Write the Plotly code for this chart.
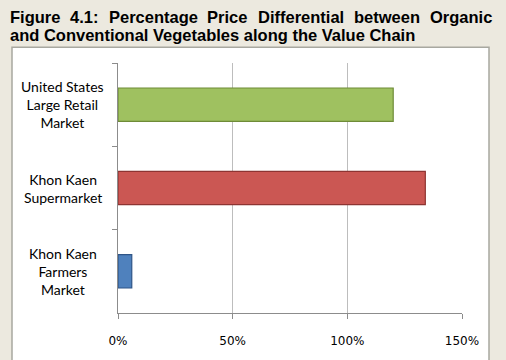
import plotly.graph_objects as go

# ---- data ----
categories = [
    "United States<br>Large Retail<br>Market",
    "Khon Kaen<br>Supermarket",
    "Khon Kaen<br>Farmers<br>Market",
]
values = [120, 134, 6]
bar_colors = ["#9FC160", "#CB5753", "#4F81BD"]
bar_edges = ["#6E8B37", "#8E3432", "#2F5587"]
x_ticks = [0, 50, 100, 150]
x_tick_labels = ["0%", "50%", "100%", "150%"]
title_line1_words = ["Figure", "4.1:", "Percentage", "Price", "Differential", "between", "Organic"]
title_line2 = "and Conventional Vegetables along the Value Chain"

# ---- layout geometry (pixels) ----
W, H = 506, 360
L, R, T, B = 118, 44, 63, 44
PW, PH = W - L - R, H - T - B
TITLE_SIZE = 16.5

def px(xp):
    return (xp - L) / PW

def py(yp):
    return (H - B - yp) / PH

# Arial/Liberation Sans Bold advance widths (per 1000 em) for justification
ADV = {"F": 611, "i": 278, "g": 611, "u": 611, "r": 389, "e": 556, "4": 556,
       ".": 278, "1": 556, ":": 333, "P": 667, "c": 556, "n": 611, "t": 333,
       "a": 556, "D": 722, "f": 333, "l": 278, "b": 611, "w": 778, "O": 778}

def word_width(w):
    return sum(ADV.get(ch, 556) for ch in w) * TITLE_SIZE / 1000.0

# justify line 1 between x=8 and x=490
left_edge, right_edge = 8, 490
widths = [word_width(w) for w in title_line1_words]
gap = (right_edge - left_edge - sum(widths)) / (len(widths) - 1)
word_x = []
cur = left_edge
for wd in widths:
    word_x.append(cur)
    cur += wd + gap

fig = go.Figure()
fig.add_trace(go.Bar(
    y=categories, x=values, orientation="h",
    marker=dict(color=bar_colors, line=dict(color=bar_edges, width=1.2)),
    width=0.4, hoverinfo="skip",
))

shapes = [
    dict(type="rect", xref="paper", yref="paper", layer="below",
         x0=px(12), x1=px(489), y0=py(47), y1=py(380),
         fillcolor="white", line=dict(color="#A8A8A0", width=1.5)),
]

title_font = dict(family="Liberation Sans, Arial", size=TITLE_SIZE, color="black")
annotations = []
for w, xx in zip(title_line1_words, word_x):
    annotations.append(dict(text="<b>%s</b>" % w, xref="paper", yref="paper",
                            x=px(xx), y=py(16), xanchor="left",
                            yanchor="middle", showarrow=False, font=title_font))
annotations.append(dict(text="<b>%s</b>" % title_line2, xref="paper", yref="paper",
                        x=px(8), y=py(35), xanchor="left", yanchor="middle",
                        showarrow=False, font=title_font))

# centered category labels
for c in categories:
    annotations.append(dict(text=c, xref="paper", yref="y", x=px(62.5), y=c,
                            xanchor="center", yanchor="middle", align="center",
                            showarrow=False,
                            font=dict(family="Lato", size=14, color="black")))

fig.update_layout(
    width=W, height=H,
    margin=dict(l=L, r=R, t=T, b=B, pad=0),
    paper_bgcolor="#ECE9DF", plot_bgcolor="white",
    showlegend=False, bargap=0.6,
    shapes=shapes, annotations=annotations,
    xaxis=dict(range=[0, 150], tickvals=x_ticks, ticktext=x_tick_labels,
               showgrid=True, gridcolor="#BDBDBD", gridwidth=1,
               showline=True, linecolor="#8C8C8C", linewidth=1,
               ticks="outside", ticklen=5, tickcolor="#8C8C8C",
               tickfont=dict(family="DejaVu Sans", size=12, color="black"),
               zeroline=False, fixedrange=True, ticklabelstandoff=12),
    yaxis=dict(autorange="reversed", showgrid=False,
               showline=True, linecolor="#8C8C8C", linewidth=1,
               ticks="outside", ticklen=5, tickcolor="#8C8C8C",
               tickson="boundaries", showticklabels=False,
               fixedrange=True),
)

fig.write_html("out.html")
